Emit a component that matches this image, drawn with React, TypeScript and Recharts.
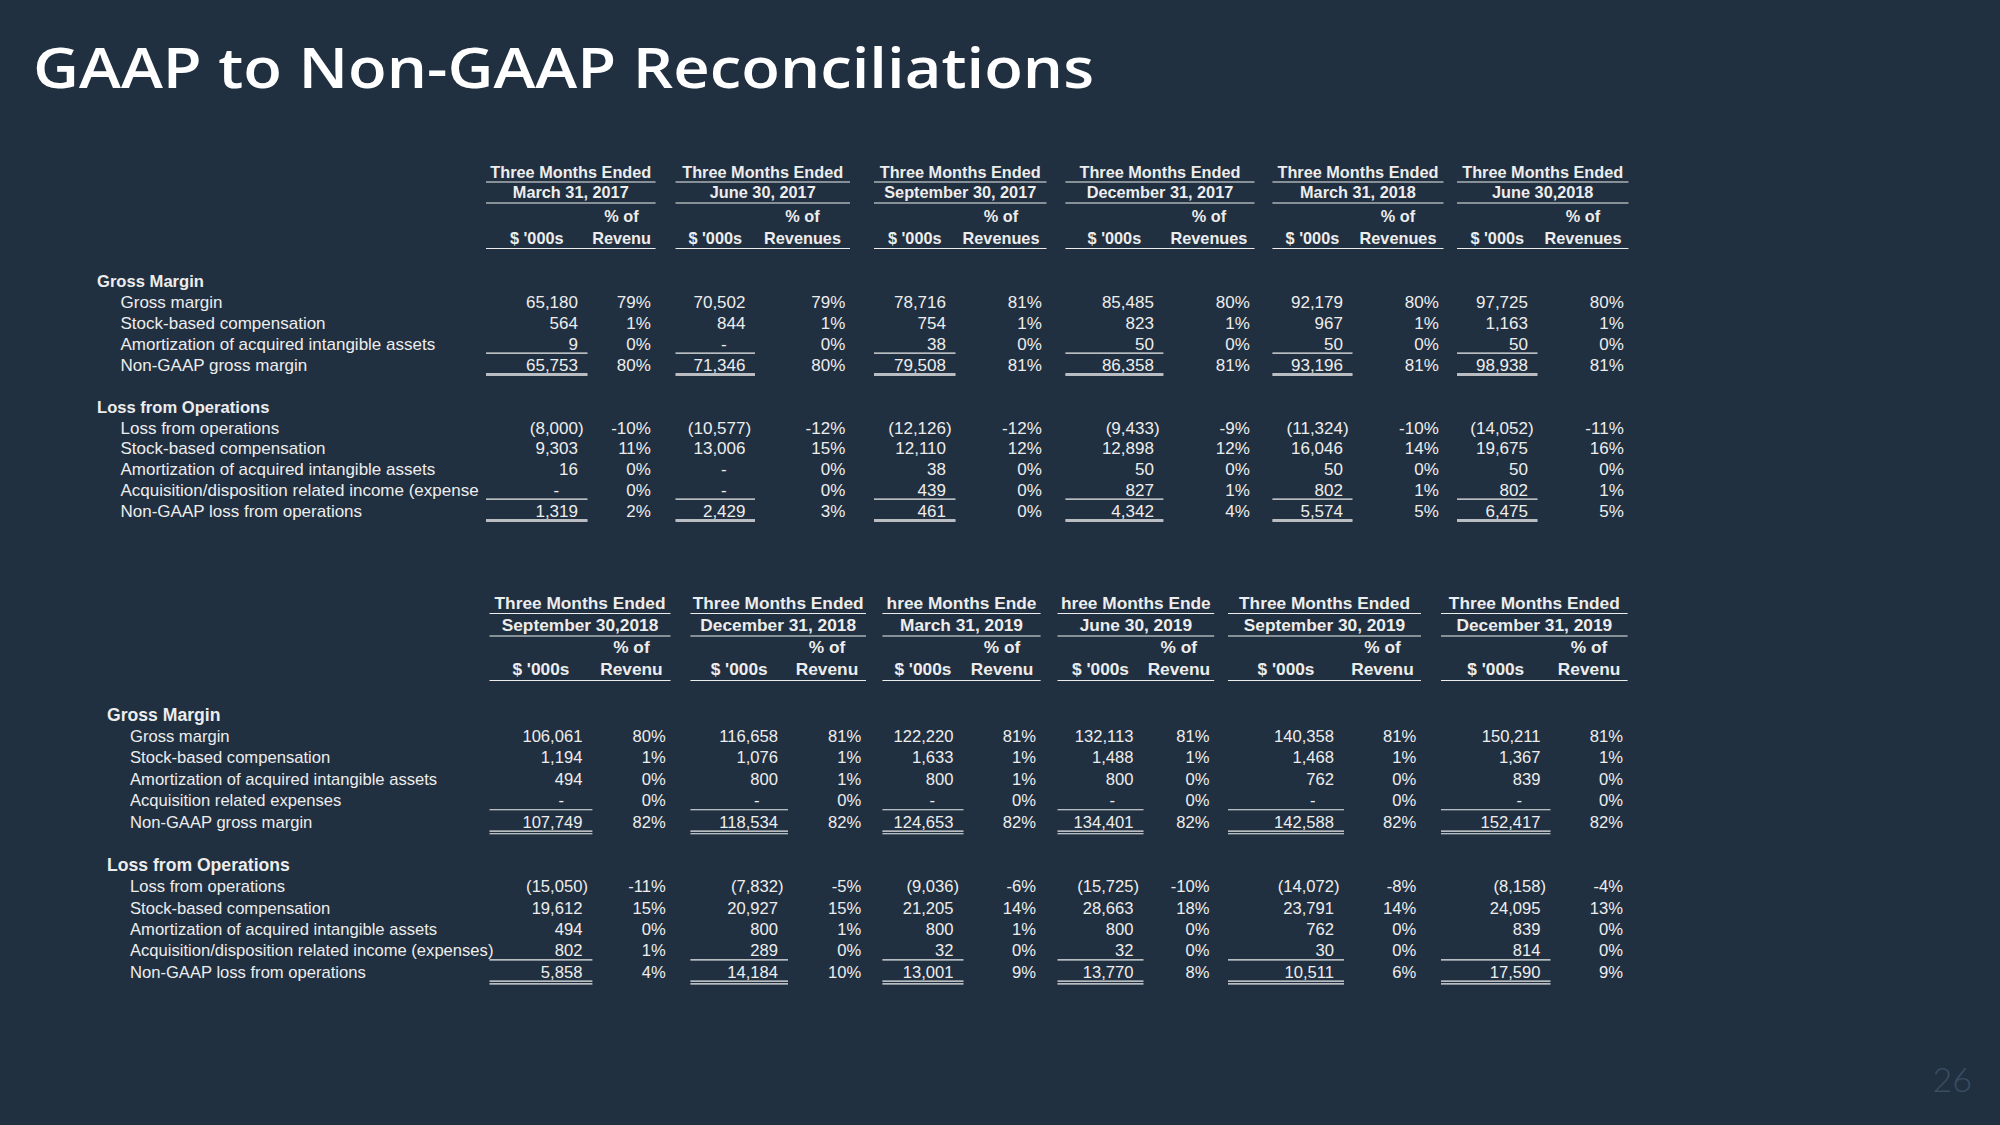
import { ScatterChart, Scatter, XAxis, YAxis, ReferenceLine } from 'recharts'

const W = 2000
const H = 1125
const BG = '#213041'
const INK = '#ededed'
const TABLE_FONT = '"Liberation Sans", Arial, sans-serif'

// ---------- top table: Q1 2017 - Q2 2018 ----------
const TOP_HEAD = ['Three Months Ended', 'Three Months Ended', 'Three Months Ended', 'Three Months Ended', 'Three Months Ended', 'Three Months Ended']
const TOP_PERIODS = ['March 31, 2017', 'June 30, 2017', 'September 30, 2017', 'December 31, 2017', 'March 31, 2018', 'June 30,2018']
const TOP_PCT_HEAD = ['Revenu', 'Revenues', 'Revenues', 'Revenues', 'Revenues', 'Revenues']

const TOP_GM_LABELS = ['Gross margin', 'Stock-based compensation', 'Amortization of acquired intangible assets', 'Non-GAAP gross margin']
const TOP_GM_USD = [
  [65180, 564, 9, 65753],
  [70502, 844, 0, 71346],
  [78716, 754, 38, 79508],
  [85485, 823, 50, 86358],
  [92179, 967, 50, 93196],
  [97725, 1163, 50, 98938],
]
const TOP_GM_PCT = [
  [79, 1, 0, 80],
  [79, 1, 0, 80],
  [81, 1, 0, 81],
  [80, 1, 0, 81],
  [80, 1, 0, 81],
  [80, 1, 0, 81],
]

const TOP_OP_LABELS = ['Loss from operations', 'Stock-based compensation', 'Amortization of acquired intangible assets', 'Acquisition/disposition related income (expense', 'Non-GAAP loss from operations']
const TOP_OP_USD = [
  [-8000, 9303, 16, 0, 1319],
  [-10577, 13006, 0, 0, 2429],
  [-12126, 12110, 38, 439, 461],
  [-9433, 12898, 50, 827, 4342],
  [-11324, 16046, 50, 802, 5574],
  [-14052, 19675, 50, 802, 6475],
]
const TOP_OP_PCT = [
  [-10, 11, 0, 0, 2],
  [-12, 15, 0, 0, 3],
  [-12, 12, 0, 0, 0],
  [-9, 12, 0, 1, 4],
  [-10, 14, 0, 1, 5],
  [-11, 16, 0, 1, 5],
]

// ---------- bottom table: Q3 2018 - Q4 2019 ----------
const BOT_HEAD = ['Three Months Ended', 'Three Months Ended', 'hree Months Ende', 'hree Months Ende', 'Three Months Ended', 'Three Months Ended']
const BOT_PERIODS = ['September 30,2018', 'December 31, 2018', 'March 31, 2019', 'June 30, 2019', 'September 30, 2019', 'December 31, 2019']
const BOT_PCT_HEAD = ['Revenu', 'Revenu', 'Revenu', 'Revenu', 'Revenu', 'Revenu']

const BOT_GM_LABELS = ['Gross margin', 'Stock-based compensation', 'Amortization of acquired intangible assets', 'Acquisition related expenses', 'Non-GAAP gross margin']
const BOT_GM_USD = [
  [106061, 1194, 494, 0, 107749],
  [116658, 1076, 800, 0, 118534],
  [122220, 1633, 800, 0, 124653],
  [132113, 1488, 800, 0, 134401],
  [140358, 1468, 762, 0, 142588],
  [150211, 1367, 839, 0, 152417],
]
const BOT_GM_PCT = [
  [80, 1, 0, 0, 82],
  [81, 1, 1, 0, 82],
  [81, 1, 1, 0, 82],
  [81, 1, 0, 0, 82],
  [81, 1, 0, 0, 82],
  [81, 1, 0, 0, 82],
]

const BOT_OP_LABELS = ['Loss from operations', 'Stock-based compensation', 'Amortization of acquired intangible assets', 'Acquisition/disposition related income (expenses)', 'Non-GAAP loss from operations']
const BOT_OP_USD = [
  [-15050, 19612, 494, 802, 5858],
  [-7832, 20927, 800, 289, 14184],
  [-9036, 21205, 800, 32, 13001],
  [-15725, 28663, 800, 32, 13770],
  [-14072, 23791, 762, 30, 10511],
  [-8158, 24095, 839, 814, 17590],
]
const BOT_OP_PCT = [
  [-11, 15, 0, 1, 4],
  [-5, 15, 1, 0, 10],
  [-6, 14, 1, 0, 9],
  [-10, 18, 0, 0, 8],
  [-8, 14, 0, 0, 6],
  [-4, 13, 0, 0, 9],
]

// ---------- layout ----------
interface Layout {
  cols: number[][] // [start, usd/pct split, end] per period
  headY: number[]
  ruleY: number[]
  bodyY: number
  pitch: number
  sectionX: number
  labelX: number
  headSize: number
  bodySize: number
  usdPad: number
  pctPad: number
  dbl: number[] // double-underline offsets below the subtotal row
}

const TOP_LAYOUT: Layout = {
  cols: [[486, 587.5, 655.6], [675.5, 755, 850], [874, 955.5, 1046.5], [1065.4, 1163.4, 1254.5], [1272.4, 1352.5, 1443.5], [1457, 1537.5, 1628.5]],
  headY: [172, 192.5, 216, 238.5],
  ruleY: [182, 203, 248.5],
  bodyY: 281.5,
  pitch: 20.85,
  sectionX: 97,
  labelX: 120.5,
  headSize: 16.3,
  bodySize: 17,
  usdPad: 9.5,
  pctPad: 4.7,
  dbl: [9, 10.3],
}

const BOT_LAYOUT: Layout = {
  cols: [[489.5, 592.4, 670.5], [690.4, 788, 866], [882.4, 963.5, 1040.6], [1057.5, 1143.5, 1214.2], [1228, 1344, 1421], [1441, 1550.5, 1627.6]],
  headY: [603, 624.5, 647, 669],
  ruleY: [613.5, 636, 680.5],
  bodyY: 714.5,
  pitch: 21.45,
  sectionX: 107,
  labelX: 130,
  headSize: 17.3,
  bodySize: 16.6,
  usdPad: 10,
  pctPad: 4.7,
  dbl: [9.3, 12],
}

interface Cell {
  x: number
  y: number
  text: string
  kind: 'text' | 'usd' | 'pct'
  anchor: 'start' | 'middle' | 'end'
  size: number
  bold?: boolean
  value?: number
}

interface Rule {
  x1: number
  x2: number
  y: number
}

interface TableSpec {
  layout: Layout
  head: string[]
  periods: string[]
  pctHead: string[]
  gmLabels: string[]
  gmUsd: number[][]
  gmPct: number[][]
  opLabels: string[]
  opUsd: number[][]
  opPct: number[][]
}

function buildTable(t: TableSpec) {
  const L = t.layout
  const cells: Cell[] = []
  const rules: Rule[] = []
  const lineY = (i: number) => L.bodyY + i * L.pitch

  t.head.forEach((h, p) => {
    const [a, b, c] = L.cols[p]
    const hs = { size: L.headSize, bold: true, kind: 'text' as const }
    cells.push({ ...hs, x: (a + c) / 2, y: L.headY[0], text: h, anchor: 'middle' })
    cells.push({ ...hs, x: (a + c) / 2, y: L.headY[1], text: t.periods[p], anchor: 'middle' })
    cells.push({ ...hs, x: (b + c) / 2, y: L.headY[2], text: '% of', anchor: 'middle' })
    cells.push({ ...hs, x: (a + b) / 2, y: L.headY[3], text: "$ '000s", anchor: 'middle' })
    cells.push({ ...hs, x: (b + c) / 2, y: L.headY[3], text: t.pctHead[p], anchor: 'middle' })
    L.ruleY.forEach((y) => rules.push({ x1: a, x2: c, y }))
  })

  const section = (title: string, labels: string[], usd: number[][], pct: number[][], start: number) => {
    cells.push({ x: L.sectionX, y: lineY(start), text: title, kind: 'text', anchor: 'start', size: L.headSize + 0.3, bold: true })
    labels.forEach((lab, r) => {
      const y = lineY(start + 1 + r)
      cells.push({ x: L.labelX, y, text: lab, kind: 'text', anchor: 'start', size: L.bodySize })
      usd.forEach((col, p) => {
        const [, b, c] = L.cols[p]
        cells.push({ x: b - L.usdPad + L.bodySize * 0.333, y, text: '', value: col[r], kind: 'usd', anchor: 'end', size: L.bodySize })
        cells.push({ x: c - L.pctPad, y, text: `${pct[p][r]}%`, kind: 'pct', anchor: 'end', size: L.bodySize })
      })
    })
    const last = lineY(start + labels.length)
    L.cols.forEach(([a, b]) => {
      rules.push({ x1: a, x2: b, y: last - L.pitch / 2 - 1.3 })
      L.dbl.forEach((d) => rules.push({ x1: a, x2: b, y: last + d }))
    })
    return start + labels.length + 2
  }

  const next = section('Gross Margin', t.gmLabels, t.gmUsd, t.gmPct, 0)
  section('Loss from Operations', t.opLabels, t.opUsd, t.opPct, next)
  return { cells, rules }
}

const top = buildTable({
  layout: TOP_LAYOUT, head: TOP_HEAD, periods: TOP_PERIODS, pctHead: TOP_PCT_HEAD,
  gmLabels: TOP_GM_LABELS, gmUsd: TOP_GM_USD, gmPct: TOP_GM_PCT,
  opLabels: TOP_OP_LABELS, opUsd: TOP_OP_USD, opPct: TOP_OP_PCT,
})
const bottom = buildTable({
  layout: BOT_LAYOUT, head: BOT_HEAD, periods: BOT_PERIODS, pctHead: BOT_PCT_HEAD,
  gmLabels: BOT_GM_LABELS, gmUsd: BOT_GM_USD, gmPct: BOT_GM_PCT,
  opLabels: BOT_OP_LABELS, opUsd: BOT_OP_USD, opPct: BOT_OP_PCT,
})

const CELLS = [...top.cells, ...bottom.cells]
const RULES = [...top.rules, ...bottom.rules]

const fmt = new Intl.NumberFormat('en-US')

// accounting-style: positives keep room for the closing paren, zero shows a dash
function renderCell(props: any) {
  const p: Cell = props.payload ?? props
  const { cx, cy } = props
  const common = {
    x: cx,
    y: cy,
    dy: '0.36em',
    textAnchor: p.anchor,
    fontSize: p.size,
    fontFamily: TABLE_FONT,
    fontWeight: p.bold ? 700 : 400,
    fill: INK,
  }
  if (p.kind === 'usd') {
    const v = p.value ?? 0
    if (v < 0) return <text {...common}>({fmt.format(-v)})</text>
    if (v === 0) {
      return (
        <text {...common}>
          -<tspan fill="transparent">00)</tspan>
        </text>
      )
    }
    return (
      <text {...common}>
        {fmt.format(v)}
        <tspan fill="transparent">)</tspan>
      </text>
    )
  }
  return <text {...common}>{p.text}</text>
}

export default function App() {
  return (
    <div style={{ width: W, height: H, background: BG, position: 'relative', overflow: 'hidden' }}>
      <style>{`body{margin:0;background:${BG}}`}</style>
      <ScatterChart width={W} height={H} margin={{ top: 0, right: 0, bottom: 0, left: 0 }}>
        <XAxis type="number" dataKey="x" domain={[0, W]} hide />
        <YAxis type="number" dataKey="y" domain={[0, H]} reversed hide />
        {RULES.map((r, i) => (
          <ReferenceLine
            key={i}
            segment={[{ x: r.x1, y: r.y }, { x: r.x2, y: r.y }]}
            stroke={INK}
            strokeWidth={1.2}
          />
        ))}
        <Scatter data={CELLS} shape={renderCell} isAnimationActive={false} />
      </ScatterChart>
      <svg width={1200} height={120} style={{ position: 'absolute', left: 0, top: 0 }}>
        <text
          x={33}
          y={88}
          textLength={1061}
          lengthAdjust="spacingAndGlyphs"
          fontFamily='"Open Sans", sans-serif'
          fontWeight={600}
          fontSize={56}
          fill="#ffffff"
          style={{ fontVariantLigatures: 'none' }}
        >
          GAAP to Non-GAAP Reconciliations
        </text>
      </svg>
      <div
        style={{
          position: 'absolute',
          right: 28,
          top: 1058,
          fontFamily: 'Lato, sans-serif',
          fontWeight: 300,
          fontSize: 34,
          color: '#3a4d62',
        }}
      >
        26
      </div>
    </div>
  )
}
